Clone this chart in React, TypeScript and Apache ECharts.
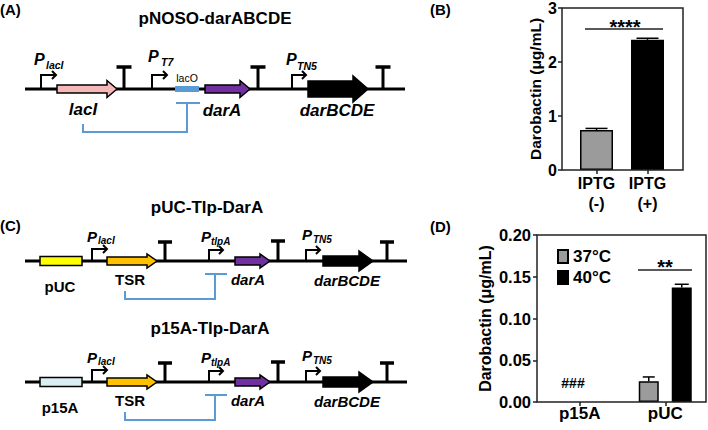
import React, { useEffect, useRef } from 'react';
import * as echarts from 'echarts';

const FAMILY = "'Liberation Sans', Arial, Helvetica, sans-serif";

// ---------- Panel B data ----------
const bCategories = ['IPTG\n(-)', 'IPTG\n(+)'];
const bMeans = [0.74, 2.41];
const bErrTops = [0.77, 2.44];
const bYMin = 0;
const bYMax = 3;
const bYInterval = 1;

// ---------- Panel D data ----------
const dCategories = ['p15A', 'pUC'];
const dSeriesNames = ['37°C', '40°C'];
const dMeans37: (number | null)[] = [null, 0.025];
const dMeans40: (number | null)[] = [null, 0.137];
const dErrTops37: (number | null)[] = [null, 0.03];
const dErrTops40: (number | null)[] = [null, 0.141];
const dYMin = 0;
const dYMax = 0.2;
const dYInterval = 0.05;

// ---------- texts ----------
const yAxisTitle = 'Darobactin (μg/mL)';
const bSignificance = '****';
const dSignificance = '**';
const dNotDetected = '###';

// ---------- styles ----------
const B_COLORS = ['#9b9b9b', '#000000'];
const D_COLORS = ['#9b9b9b', '#000000'];
const BLUE = '#5b9bd5';
const PINK = '#f4b8b8';
const PURPLE = '#7030a0';
const ORANGE = '#ffc000';
const YELLOW = '#ffff00';
const LIGHTBLUE = '#dbeef4';
const AXIS = '#222';

const font = (size: number, italic = false, weight = 'bold') =>
  `${italic ? 'italic ' : ''}${weight} ${size}px ${FAMILY}`;

function text(x: number, y: number, t: string, size: number, opts: any = {}) {
  const align = opts.align ?? 'center';
  return {
    type: 'text', x, y, z: 50, silent: true,
    style: {
      text: t, font: font(size, !!opts.italic, opts.weight ?? 'bold'), fill: opts.fill ?? '#000',
      align, verticalAlign: 'middle', textAlign: align, textVerticalAlign: 'middle',
    },
  };
}
function seg(x1: number, y1: number, x2: number, y2: number, stroke = '#000', lw = 2.5) {
  return { type: 'line', z: 40, silent: true, shape: { x1, y1, x2, y2 }, style: { stroke, lineWidth: lw } };
}
function poly(points: number[][], stroke = '#000', lw = 2) {
  return { type: 'polyline', z: 40, silent: true, shape: { points }, style: { stroke, lineWidth: lw, fill: null } };
}
function gene(x1: number, x2: number, yc: number, bh: number, hh: number, hl: number, fill: string) {
  return {
    type: 'polygon', z: 45, silent: true,
    shape: {
      points: [
        [x1, yc - bh], [x2 - hl, yc - bh], [x2 - hl, yc - hh], [x2, yc],
        [x2 - hl, yc + hh], [x2 - hl, yc + bh], [x1, yc + bh],
      ],
    },
    style: { fill, stroke: '#000', lineWidth: 1.5, lineJoin: 'miter' },
  };
}
function promoter(x: number, yL: number, h: number, len: number) {
  return [
    poly([[x, yL], [x, yL - h], [x + len, yL - h]], '#000', 2),
    poly([[x + len - 4, yL - h - 4], [x + len, yL - h], [x + len - 4, yL - h + 4]], '#000', 2),
  ];
}
function terminator(x: number, yL: number, top: number, half: number) {
  return [seg(x, yL, x, top, '#000', 3), seg(x - half, top, x + half, top, '#000', 3.5)];
}
function pLabel(x: number, y: number, sub: string, subX: number, subY: number, size = 15, subSize = 10) {
  return [
    text(x, y, 'P', size, { italic: true, align: 'left' }),
    text(subX, subY, sub, subSize, { italic: true, align: 'left' }),
  ];
}

// ---------- Panel A ----------
function panelA() {
  const yL = 89;
  return [
    text(0, 9, '(A)', 15, { align: 'left' }),
    text(215, 18, 'pNOSO-darABCDE', 17),
    seg(25, yL, 405, yL, '#000', 3),
    ...promoter(41, yL, 14, 15),
    ...pLabel(34, 59, 'lacI', 46, 65, 16, 10.5),
    gene(57, 117, yL, 4, 8.5, 10, PINK),
    text(83, 109, 'lacI', 17, { italic: true }),
    ...terminator(124, yL, 67, 7.5),
    ...promoter(152, yL, 14, 15),
    ...pLabel(148, 56, 'T7', 161, 62, 16, 10.5),
    { type: 'rect', z: 45, silent: true, shape: { x: 175, y: 86, width: 24, height: 6 }, style: { fill: BLUE } },
    text(187, 78, 'lacO', 10.5, { weight: 'normal' }),
    gene(205, 250, yL, 4, 8.5, 10, PURPLE),
    text(222, 110, 'darA', 17, { italic: true }),
    ...terminator(258, yL, 67, 7.5),
    ...promoter(292, yL, 14, 14),
    ...pLabel(286, 59, 'TN5', 297, 66, 16, 10.5),
    gene(308, 368, yL, 8, 13, 15, '#000'),
    text(337, 110, 'darBCDE', 17, { italic: true }),
    ...terminator(383, yL, 67, 7.5),
    seg(176, 103, 200, 103, BLUE, 2),
    seg(187, 103, 187, 132, BLUE, 2),
    seg(82, 132, 188, 132, BLUE, 2),
    seg(83, 124, 83, 132, BLUE, 2),
  ];
}

// ---------- Panel C ----------
function construct(dy: number, title: string, titleX: number, ori: string, oriFill: string) {
  const yL = 261 + dy;
  return [
    text(titleX, 207 + dy, title, 17),
    seg(25, yL, 407, yL, '#000', 3),
    { type: 'rect', z: 45, silent: true, shape: { x: 40, y: yL - 4.5, width: 42, height: 9 }, style: { fill: oriFill, stroke: '#000', lineWidth: 1.5 } },
    text(60, yL + 25, ori, 15),
    ...promoter(92, yL, 12, 15),
    ...pLabel(87, yL - 25, 'lacI', 98, yL - 20.5),
    gene(107, 157, yL, 4, 7, 10, ORANGE),
    text(130, yL + 18, 'TSR', 15),
    ...terminator(165, yL, yL - 19, 7),
    ...promoter(209, yL, 11, 14),
    ...pLabel(201, yL - 25, 'tlpA', 211, yL - 20),
    gene(235, 270, yL, 4, 7, 10, PURPLE),
    text(248, yL + 18, 'darA', 15, { italic: true }),
    ...terminator(278, yL, yL - 20, 7),
    ...promoter(306, yL, 11, 14),
    ...pLabel(302, yL - 27, 'TN5', 313, yL - 22),
    gene(323, 373, yL, 5, 10, 14, '#000'),
    text(347, yL + 19, 'darBCDE', 15, { italic: true }),
    ...terminator(387, yL, yL - 19, 7),
    seg(205, yL + 13, 227, yL + 13, BLUE, 2),
    seg(215, yL + 13, 215, yL + 38, BLUE, 2),
    seg(124, yL + 38, 216, yL + 38, BLUE, 2),
    seg(125, yL + 30, 125, yL + 38, BLUE, 2),
  ];
}

function errorSeries(xAxisIndex: number, yAxisIndex: number, means: (number | null)[], tops: (number | null)[], offset: number, capHalf: number) {
  const data: number[][] = [];
  means.forEach((m, i) => {
    const t = tops[i];
    if (m != null && t != null) data.push([i, m, t]);
  });
  return {
    type: 'custom', xAxisIndex, yAxisIndex, silent: true, z: 5,
    encode: { x: 0, y: [1, 2] },
    data,
    renderItem: (_params: any, api: any) => {
      const i = api.value(0);
      const p0 = api.coord([i, api.value(1)]);
      const p1 = api.coord([i, api.value(2)]);
      const x = p0[0] + offset;
      return {
        type: 'group',
        children: [
          { type: 'line', shape: { x1: x, y1: p0[1], x2: x, y2: p1[1] }, style: { stroke: '#000', lineWidth: 1.5 } },
          { type: 'line', shape: { x1: x - capHalf, y1: p1[1], x2: x + capHalf, y2: p1[1] }, style: { stroke: '#000', lineWidth: 1.5 } },
        ],
      };
    },
  };
}

const B_GRID = { left: 571, top: 8, width: 102, height: 162 };
const D_GRID = { left: 537, top: 235, width: 174, height: 167 };

const annotations = [
  text(430, 9, '(B)', 15, { align: 'left' }),
  text(0, 225, '(C)', 15, { align: 'left' }),
  text(430, 226, '(D)', 15, { align: 'left' }),
  { type: 'rect', z: 30, silent: true, shape: { x: 562, y: 8, width: 121, height: 162 }, style: { fill: 'none', stroke: AXIS, lineWidth: 1.5 } },
  { type: 'rect', z: 30, silent: true, shape: { x: 537, y: 235, width: 169, height: 167 }, style: { fill: 'none', stroke: AXIS, lineWidth: 1.5 } },
  seg(585, 29, 663, 29, AXIS, 1.5),
  text(625, 27, bSignificance, 20),
  seg(638, 270, 692, 270, AXIS, 1.5),
  text(665, 267, dSignificance, 20),
  text(573, 382.5, dNotDetected, 14),
];

const axisLabelStyle = { color: '#000', fontWeight: 'bold', fontFamily: FAMILY };

const option: any = {
  animation: false,
  textStyle: { fontFamily: FAMILY },
  grid: [B_GRID, D_GRID],
  legend: {
    data: dSeriesNames,
    orient: 'vertical',
    left: 552,
    top: 243,
    itemWidth: 10,
    itemHeight: 13,
    itemGap: 4,
    icon: 'rect',
    selectedMode: false,
    textStyle: { fontSize: 17, fontWeight: 'bold', color: '#000', lineHeight: 15, fontFamily: FAMILY },
  },
  xAxis: [
    {
      gridIndex: 0, type: 'category', data: bCategories,
      axisLine: { show: false },
      axisTick: { show: true, alignWithLabel: true, length: 4, lineStyle: { color: AXIS, width: 1.5 } },
      axisLabel: { ...axisLabelStyle, fontSize: 16, lineHeight: 20, margin: 3, interval: 0 },
    },
    {
      gridIndex: 1, type: 'category', data: dCategories,
      axisLine: { show: false },
      axisTick: { show: true, alignWithLabel: true, length: 4, lineStyle: { color: AXIS, width: 1.5 } },
      axisLabel: { ...axisLabelStyle, fontSize: 17, lineHeight: 17, margin: 3, interval: 0 },
    },
  ],
  yAxis: [
    {
      gridIndex: 0, type: 'value', min: bYMin, max: bYMax, interval: bYInterval, offset: 9,
      axisLine: { show: false },
      axisTick: { show: true, length: 4, lineStyle: { color: AXIS, width: 1.5 } },
      splitLine: { show: false },
      axisLabel: { ...axisLabelStyle, fontSize: 16, margin: 5 },
      name: yAxisTitle, nameLocation: 'middle', nameGap: 19,
      nameTextStyle: { ...axisLabelStyle, fontSize: 15.5 },
    },
    {
      gridIndex: 1, type: 'value', min: dYMin, max: dYMax, interval: dYInterval,
      axisLine: { show: false },
      axisTick: { show: true, length: 4, lineStyle: { color: AXIS, width: 1.5 } },
      splitLine: { show: false },
      axisLabel: { ...axisLabelStyle, fontSize: 16.5, margin: 6, formatter: (v: number) => v.toFixed(2) },
      name: yAxisTitle, nameLocation: 'middle', nameGap: 44,
      nameTextStyle: { ...axisLabelStyle, fontSize: 16 },
    },
  ],
  series: [
    {
      type: 'bar', xAxisIndex: 0, yAxisIndex: 0, barWidth: 33, silent: true,
      data: bMeans.map((v, i) => ({ value: v, itemStyle: { color: B_COLORS[i] } })),
      itemStyle: { borderColor: '#000', borderWidth: 1.5 },
    },
    errorSeries(0, 0, bMeans, bErrTops, 0, 11),
    {
      name: dSeriesNames[0], type: 'bar', xAxisIndex: 1, yAxisIndex: 1, barWidth: 20, barGap: '65%', silent: true,
      data: dMeans37.map((v) => (v == null ? '-' : v)),
      itemStyle: { color: D_COLORS[0], borderColor: '#000', borderWidth: 1.5 },
    },
    {
      name: dSeriesNames[1], type: 'bar', xAxisIndex: 1, yAxisIndex: 1, barWidth: 20, barGap: '65%', silent: true,
      data: dMeans40.map((v) => (v == null ? '-' : v)),
      itemStyle: { color: D_COLORS[1], borderColor: '#000', borderWidth: 1.5 },
    },
    errorSeries(1, 1, dMeans37, dErrTops37, -16.5, 6),
    errorSeries(1, 1, dMeans40, dErrTops40, 16.5, 7),
  ],
  graphic: {
    elements: [
      ...panelA(),
      ...construct(0, 'pUC-Tlp-DarA', 207, 'pUC', YELLOW),
      ...construct(121, 'p15A-Tlp-DarA', 210, 'p15A', LIGHTBLUE),
      ...annotations,
    ],
  },
};

export default function App() {
  const ref = useRef<HTMLDivElement>(null);
  useEffect(() => {
    if (!ref.current) return;
    const chart = echarts.init(ref.current, null, { renderer: 'svg' });
    chart.setOption(option);
    return () => chart.dispose();
  }, []);
  return (
    <div
      ref={ref}
      style={{ position: 'fixed', left: 0, top: 0, width: 708, height: 430, background: '#fff' }}
    />
  );
}
